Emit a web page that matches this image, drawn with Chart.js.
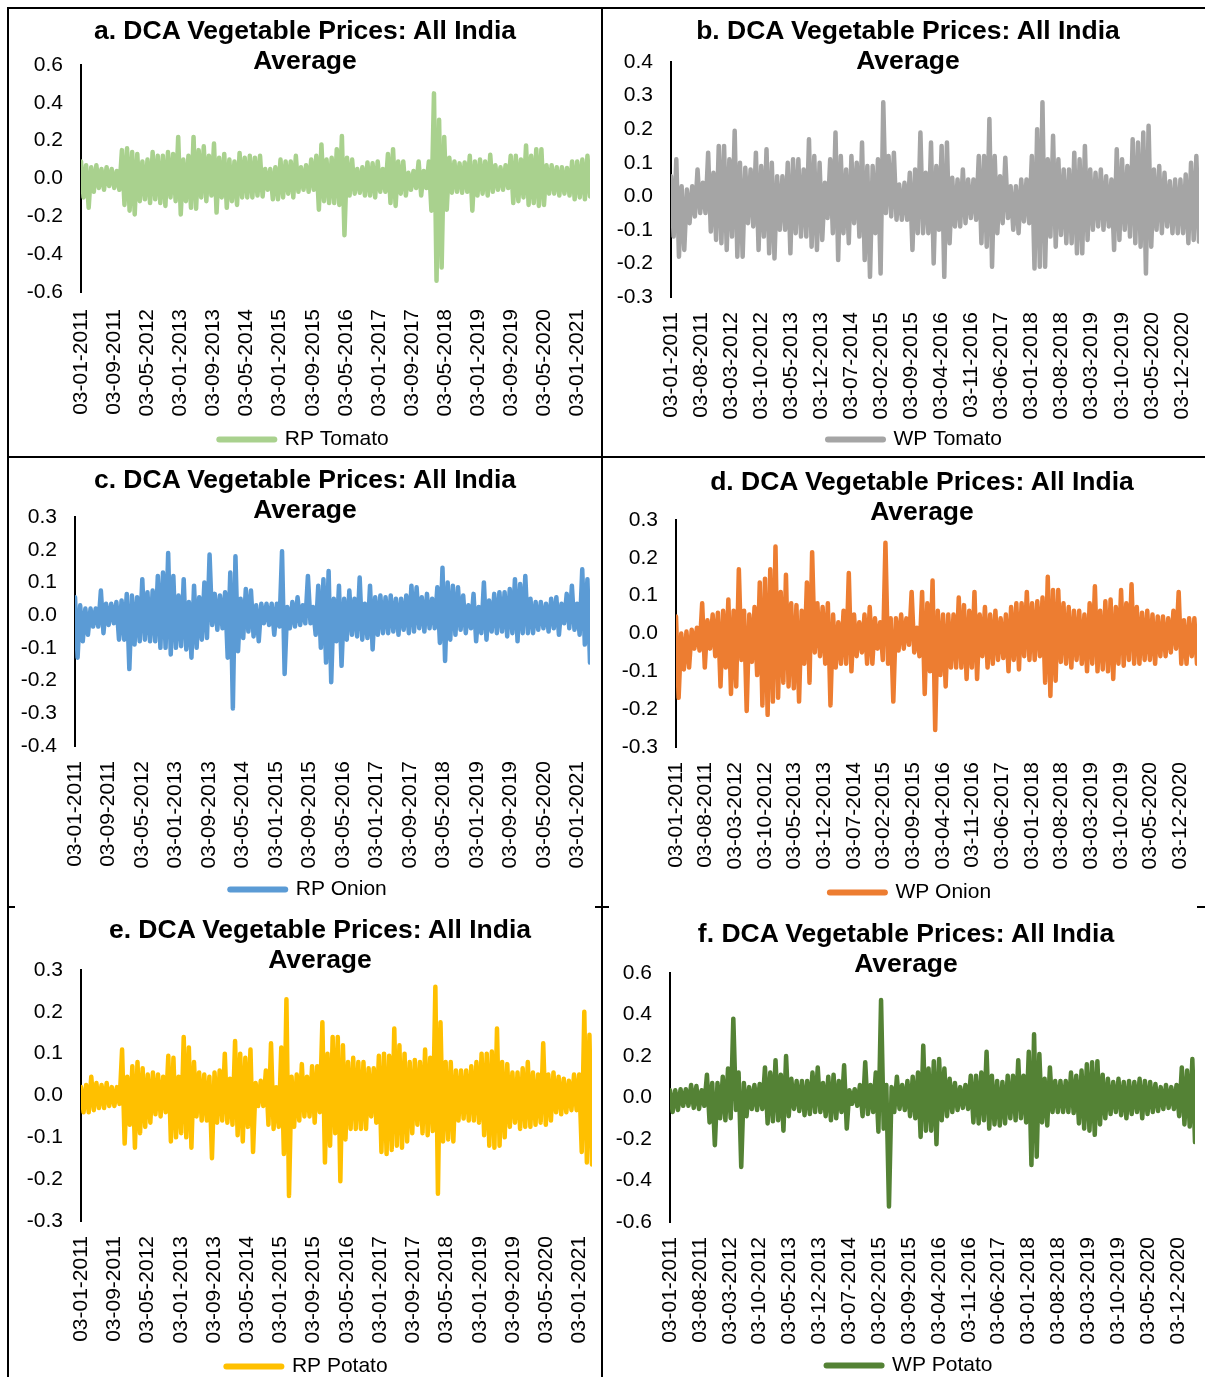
<!DOCTYPE html>
<html>
<head>
<meta charset="utf-8">
<script src="https://cdn.jsdelivr.net/npm/chart.js@4.4.1/dist/chart.umd.min.js"></script>
<style>
  html, body { margin: 0; padding: 0; background: #fff; }
  body { width: 1205px; height: 1377px; position: relative; overflow: hidden; font-family: 'Liberation Sans', Arial, sans-serif; }
  canvas { position: absolute; }
  .title { position: absolute; width: 600px; text-align: center; font-weight: bold; font-size: 26.5px; line-height: 30px; color: #000; z-index: 2; }
  .rule { position: absolute; background: #000; z-index: 3; }
</style>
</head>
<body>
<div class="rule" style="left:7px;top:7px;width:1198px;height:2px"></div>
<div class="rule" style="left:7px;top:456px;width:1198px;height:2px"></div>
<div class="rule" style="left:7px;top:7px;width:2px;height:1370px"></div>
<div class="rule" style="left:601px;top:7px;width:2px;height:1370px"></div>
<div class="rule" style="left:7px;top:906px;width:8px;height:2px"></div>
<div class="rule" style="left:595px;top:906px;width:14px;height:2px"></div>
<div class="rule" style="left:1197px;top:906px;width:8px;height:2px"></div>

<div class="title" style="left:5px;top:15px">a. DCA Vegetable Prices: All India<br>Average</div>
<div class="title" style="left:608px;top:15px">b. DCA Vegetable Prices: All India<br>Average</div>
<div class="title" style="left:5px;top:464px">c. DCA Vegetable Prices: All India<br>Average</div>
<div class="title" style="left:622px;top:466px">d. DCA Vegetable Prices: All India<br>Average</div>
<div class="title" style="left:20px;top:914px">e. DCA Vegetable Prices: All India<br>Average</div>
<div class="title" style="left:606px;top:918px">f. DCA Vegetable Prices: All India<br>Average</div>

<canvas id="chartA"></canvas>
<canvas id="chartB"></canvas>
<canvas id="chartC"></canvas>
<canvas id="chartD"></canvas>
<canvas id="chartE"></canvas>
<canvas id="chartF"></canvas>

<script>
const FONT = "'Liberation Sans', Arial, sans-serif";
Chart.defaults.font.family = FONT;
Chart.defaults.font.size = 21;
Chart.defaults.color = '#000';

// months counted from Jan 2011, series run to about Apr 2021
const X_MAX = 123;

// date ticks: every 8 months (left column), every 7 months (right column)
const ticksEvery8 = ['03-01-2011', '03-09-2011', '03-05-2012', '03-01-2013', '03-09-2013', '03-05-2014',
  '03-01-2015', '03-09-2015', '03-05-2016', '03-01-2017', '03-09-2017', '03-05-2018',
  '03-01-2019', '03-09-2019', '03-05-2020', '03-01-2021'];
const ticksEvery7 = ['03-01-2011', '03-08-2011', '03-03-2012', '03-10-2012', '03-05-2013', '03-12-2013',
  '03-07-2014', '03-02-2015', '03-09-2015', '03-04-2016', '03-11-2016', '03-06-2017',
  '03-01-2018', '03-08-2018', '03-03-2019', '03-10-2019', '03-05-2020', '03-12-2020'];

const yTicksA = [-0.6, -0.4, -0.2, 0, 0.2, 0.4, 0.6];
const yTicksB = [-0.3, -0.2, -0.1, 0, 0.1, 0.2, 0.3, 0.4];
const yTicksC = [-0.4, -0.3, -0.2, -0.1, 0, 0.1, 0.2, 0.3];
const yTicksD = [-0.3, -0.2, -0.1, 0, 0.1, 0.2, 0.3];
const yTicksE = [-0.3, -0.2, -0.1, 0, 0.1, 0.2, 0.3];
const yTicksF = [-0.6, -0.4, -0.2, 0, 0.2, 0.4, 0.6];

// values: successive highs and lows of the daily series
const rpTomato = [
  0.09,-0.10, 0.07,-0.155, 0.06,-0.07, 0.07,-0.05, 0.05,-0.06, 0.06,-0.04, 0.05,-0.05, 0.04,-0.06, 0.15,-0.14, 0.16,-0.17,
  0.14,-0.19, 0.13,-0.12, 0.09,-0.11, 0.10,-0.13, 0.14,-0.11, 0.12,-0.13, 0.12,-0.145, 0.14,-0.10, 0.13,-0.12, 0.22,-0.19,
  0.10,-0.12, 0.12,-0.155, 0.22,-0.16, 0.15,-0.10, 0.17,-0.12, 0.12,-0.09, 0.185,-0.18, 0.11,-0.10, 0.13,-0.155, 0.10,-0.12,
  0.09,-0.14, 0.135,-0.10, 0.11,-0.10, 0.12,-0.10, 0.11,-0.09, 0.12,-0.095, 0.05,-0.06, 0.05,-0.11, 0.06,-0.11, 0.10,-0.10,
  0.09,-0.08, 0.09,-0.10, 0.12,-0.07, 0.06,-0.06, 0.07,-0.07, 0.10,-0.06, 0.12,-0.165, 0.18,-0.12, 0.10,-0.13, 0.11,-0.13,
  0.155,-0.14, 0.225,-0.30, 0.11,-0.09, 0.10,-0.08, 0.05,-0.075, 0.06,-0.09, 0.085,-0.09, 0.08,-0.10, 0.09,-0.07, 0.05,-0.07,
  0.13,-0.13, 0.155,-0.145, 0.09,-0.08, 0.09,-0.09, 0.03,-0.06, 0.04,-0.05, 0.09,-0.09, 0.04,-0.05, 0.09,-0.17, 0.45,-0.54,
  0.31,-0.47, 0.22,-0.165, 0.11,-0.075, 0.09,-0.07, 0.08,-0.075, 0.085,-0.07, 0.12,-0.17, 0.09,-0.09, 0.10,-0.08, 0.09,-0.09,
  0.125,-0.07, 0.07,-0.06, 0.06,-0.06, 0.07,-0.05, 0.12,-0.13, 0.12,-0.12, 0.10,-0.10, 0.175,-0.14, 0.12,-0.13, 0.155,-0.145,
  0.155,-0.14, 0.07,-0.08, 0.07,-0.08, 0.06,-0.09, 0.06,-0.08, 0.055,-0.09, 0.09,-0.11, 0.09,-0.10, 0.10,-0.11, 0.12,-0.095
];
const wpTomato = [
  0.06,-0.12, 0.11,-0.18, 0.03,-0.16, 0.02,-0.08, 0.03,-0.06, 0.08,-0.05, 0.04,-0.05, 0.13,-0.105, 0.07,-0.13, 0.15,-0.14,
  0.15,-0.16, 0.11,-0.12, 0.195,-0.18, 0.10,-0.18, 0.085,-0.08, 0.08,-0.09, 0.13,-0.16, 0.09,-0.12, 0.14,-0.17, 0.10,-0.185,
  0.06,-0.10, 0.06,-0.10, 0.10,-0.17, 0.11,-0.11, 0.11,-0.12, 0.08,-0.12, 0.17,-0.15, 0.12,-0.16, 0.10,-0.13, 0.04,-0.065,
  0.11,-0.11, 0.19,-0.19, 0.12,-0.11, 0.08,-0.14, 0.12,-0.08, 0.10,-0.12, 0.16,-0.19, 0.09,-0.24, 0.09,-0.11, 0.11,-0.23,
  0.28,-0.05, 0.12,-0.06, 0.13,-0.07, 0.035,-0.07, 0.04,-0.07, 0.07,-0.16, 0.08,-0.11, 0.19,-0.11, 0.07,-0.11, 0.16,-0.20,
  0.09,-0.10, 0.15,-0.24, 0.16,-0.14, 0.055,-0.09, 0.05,-0.09, 0.08,-0.08, 0.05,-0.065, 0.05,-0.07, 0.12,-0.14, 0.12,-0.15,
  0.23,-0.21, 0.12,-0.11, 0.06,-0.08, 0.115,-0.065, 0.03,-0.10, 0.03,-0.11, 0.05,-0.075, 0.05,-0.08, 0.12,-0.215, 0.20,-0.21,
  0.28,-0.21, 0.11,-0.12, 0.18,-0.15, 0.11,-0.115, 0.08,-0.14, 0.08,-0.14, 0.13,-0.17, 0.11,-0.17, 0.15,-0.13, 0.08,-0.10,
  0.07,-0.09, 0.08,-0.10, 0.06,-0.09, 0.05,-0.16, 0.14,-0.13, 0.11,-0.10, 0.09,-0.12, 0.17,-0.14, 0.16,-0.15, 0.19,-0.23,
  0.21,-0.15, 0.08,-0.10, 0.09,-0.11, 0.07,-0.09, 0.045,-0.11, 0.05,-0.11, 0.05,-0.11, 0.065,-0.14, 0.10,-0.13, 0.12,-0.135
];
const rpOnion = [
  0.055,-0.13, 0.03,-0.08, 0.02,-0.06, 0.02,-0.035, 0.02,-0.035, 0.075,-0.055, 0.035,-0.03, 0.035,-0.025, 0.04,-0.075, 0.045,-0.075,
  0.065,-0.165, 0.06,-0.09, 0.055,-0.08, 0.11,-0.075, 0.07,-0.08, 0.075,-0.08, 0.12,-0.10, 0.13,-0.10, 0.19,-0.12, 0.12,-0.10,
  0.06,-0.095, 0.11,-0.105, 0.04,-0.13, 0.09,-0.10, 0.055,-0.075, 0.10,-0.07, 0.185,-0.03, 0.065,-0.045, 0.06,-0.04, 0.07,-0.13,
  0.13,-0.285, 0.18,-0.11, 0.05,-0.07, 0.08,-0.05, 0.075,-0.065, 0.03,-0.08, 0.035,-0.025, 0.035,-0.03, 0.035,-0.06, 0.035,-0.035,
  0.195,-0.18, 0.025,-0.04, 0.04,-0.035, 0.055,-0.03, 0.03,-0.025, 0.12,-0.025, 0.025,-0.06, 0.09,-0.10, 0.11,-0.145, 0.135,-0.205,
  0.05,-0.08, 0.09,-0.155, 0.05,-0.075, 0.075,-0.06, 0.05,-0.065, 0.115,-0.075, 0.035,-0.07, 0.09,-0.105, 0.055,-0.06, 0.06,-0.055,
  0.055,-0.055, 0.06,-0.05, 0.05,-0.06, 0.05,-0.045, 0.06,-0.055, 0.09,-0.05, 0.085,-0.04, 0.055,-0.05, 0.065,-0.04, 0.05,-0.04,
  0.085,-0.085, 0.145,-0.14, 0.10,-0.075, 0.09,-0.06, 0.085,-0.045, 0.06,-0.055, 0.03,-0.04, 0.065,-0.08, 0.025,-0.055, 0.10,-0.075,
  0.045,-0.05, 0.065,-0.055, 0.07,-0.05, 0.07,-0.065, 0.08,-0.055, 0.11,-0.08, 0.095,-0.055, 0.12,-0.055, 0.05,-0.055, 0.04,-0.045,
  0.04,-0.04, 0.035,-0.05, 0.05,-0.04, 0.055,-0.06, 0.035,-0.025, 0.065,-0.04, 0.09,-0.045, 0.035,-0.06, 0.14,-0.09, 0.11,-0.145
];
const wpOnion = [
  0.045,-0.17, 0.0,-0.095, 0.005,-0.09, 0.01,-0.04, 0.015,-0.045, 0.08,-0.09, 0.035,-0.04, 0.05,-0.06, 0.055,-0.14, 0.06,-0.09,
  0.09,-0.16, 0.06,-0.14, 0.17,-0.07, 0.06,-0.205, 0.05,-0.075, 0.07,-0.11, 0.135,-0.19, 0.145,-0.215, 0.17,-0.18, 0.23,-0.17,
  0.11,-0.13, 0.155,-0.14, 0.08,-0.145, 0.075,-0.18, 0.06,-0.08, 0.135,-0.13, 0.215,-0.05, 0.08,-0.06, 0.07,-0.08, 0.08,-0.19,
  0.05,-0.09, 0.03,-0.08, 0.06,-0.08, 0.16,-0.10, 0.05,-0.06, 0.03,-0.05, 0.05,-0.08, 0.07,-0.08, 0.04,-0.04, 0.03,-0.07,
  0.24,-0.08, 0.04,-0.18, 0.04,-0.045, 0.05,-0.04, 0.04,-0.03, 0.11,-0.05, 0.015,-0.06, 0.11,-0.16, 0.08,-0.10, 0.14,-0.255,
  0.06,-0.11, 0.05,-0.14, 0.05,-0.09, 0.05,-0.09, 0.095,-0.09, 0.075,-0.12, 0.06,-0.09, 0.11,-0.12, 0.05,-0.06, 0.07,-0.09,
  0.05,-0.08, 0.06,-0.07, 0.04,-0.065, 0.05,-0.10, 0.07,-0.07, 0.08,-0.095, 0.08,-0.06, 0.11,-0.07, 0.08,-0.07, 0.085,-0.06,
  0.095,-0.13, 0.15,-0.165, 0.115,-0.125, 0.115,-0.075, 0.08,-0.08, 0.07,-0.09, 0.06,-0.07, 0.06,-0.08, 0.05,-0.10, 0.08,-0.08,
  0.125,-0.10, 0.06,-0.095, 0.085,-0.10, 0.09,-0.12, 0.07,-0.08, 0.115,-0.085, 0.08,-0.07, 0.13,-0.08, 0.07,-0.08, 0.055,-0.07,
  0.06,-0.07, 0.05,-0.08, 0.045,-0.06, 0.045,-0.06, 0.04,-0.05, 0.06,-0.04, 0.11,-0.08, 0.035,-0.08, 0.04,-0.06, 0.04,-0.08
];
const rpPotato = [
  0.02,-0.04, 0.025,-0.04, 0.045,-0.035, 0.03,-0.03, 0.025,-0.03, 0.03,-0.025, 0.02,-0.025, 0.02,-0.02, 0.11,-0.115, 0.045,-0.07,
  0.07,-0.125, 0.08,-0.09, 0.065,-0.075, 0.05,-0.065, 0.055,-0.045, 0.05,-0.05, 0.045,-0.04, 0.095,-0.11, 0.09,-0.10, 0.045,-0.09,
  0.14,-0.10, 0.115,-0.125, 0.08,-0.05, 0.055,-0.06, 0.05,-0.06, 0.045,-0.15, 0.055,-0.065, 0.06,-0.06, 0.10,-0.065, 0.04,-0.07,
  0.13,-0.095, 0.10,-0.11, 0.09,-0.075, 0.11,-0.135, 0.03,-0.025, 0.035,-0.025, 0.06,-0.07, 0.125,-0.08, 0.02,-0.075, 0.115,-0.14,
  0.23,-0.24, 0.045,-0.075, 0.05,-0.06, 0.075,-0.05, 0.045,-0.05, 0.07,-0.065, 0.07,-0.04, 0.175,-0.16, 0.10,-0.12, 0.14,-0.09,
  0.14,-0.205, 0.12,-0.105, 0.08,-0.08, 0.09,-0.08, 0.08,-0.08, 0.08,-0.08, 0.065,-0.05, 0.065,-0.065, 0.095,-0.135, 0.10,-0.14,
  0.095,-0.13, 0.16,-0.12, 0.12,-0.125, 0.10,-0.11, 0.08,-0.09, 0.085,-0.07, 0.08,-0.09, 0.11,-0.095, 0.09,-0.085, 0.26,-0.235,
  0.175,-0.11, 0.08,-0.105, 0.08,-0.11, 0.06,-0.06, 0.06,-0.055, 0.06,-0.06, 0.07,-0.06, 0.08,-0.065, 0.10,-0.095, 0.10,-0.12,
  0.105,-0.125, 0.16,-0.12, 0.08,-0.10, 0.075,-0.075, 0.055,-0.065, 0.055,-0.08, 0.065,-0.075, 0.08,-0.075, 0.055,-0.07, 0.05,-0.065,
  0.125,-0.07, 0.05,-0.06, 0.055,-0.04, 0.045,-0.045, 0.04,-0.04, 0.035,-0.035, 0.05,-0.035, 0.05,-0.135, 0.20,-0.16, 0.145,-0.165
];
const wpPotato = [
  0.035,-0.07, 0.035,-0.06, 0.04,-0.04, 0.04,-0.04, 0.06,-0.05, 0.055,-0.055, 0.035,-0.04, 0.11,-0.12, 0.07,-0.23, 0.07,-0.10,
  0.10,-0.11, 0.14,-0.10, 0.38,-0.06, 0.12,-0.335, 0.07,-0.09, 0.05,-0.055, 0.06,-0.06, 0.065,-0.055, 0.145,-0.125, 0.12,-0.115,
  0.18,-0.11, 0.11,-0.16, 0.20,-0.09, 0.09,-0.055, 0.08,-0.065, 0.08,-0.085, 0.08,-0.08, 0.12,-0.07, 0.145,-0.07, 0.07,-0.09,
  0.10,-0.11, 0.11,-0.10, 0.08,-0.07, 0.155,-0.15, 0.035,-0.03, 0.04,-0.04, 0.06,-0.09, 0.17,-0.08, 0.06,-0.07, 0.12,-0.165,
  0.47,-0.15, 0.06,-0.525, 0.05,-0.07, 0.10,-0.055, 0.06,-0.06, 0.08,-0.09, 0.10,-0.10, 0.12,-0.19, 0.25,-0.16, 0.14,-0.16,
  0.175,-0.225, 0.185,-0.11, 0.14,-0.09, 0.09,-0.07, 0.07,-0.06, 0.05,-0.05, 0.06,-0.055, 0.105,-0.12, 0.105,-0.125, 0.12,-0.11,
  0.22,-0.15, 0.105,-0.13, 0.08,-0.135, 0.075,-0.125, 0.105,-0.10, 0.105,-0.11, 0.18,-0.10, 0.105,-0.12, 0.22,-0.325, 0.305,-0.285,
  0.21,-0.12, 0.09,-0.135, 0.145,-0.07, 0.08,-0.07, 0.08,-0.07, 0.08,-0.07, 0.12,-0.075, 0.105,-0.125, 0.13,-0.15, 0.16,-0.16,
  0.17,-0.18, 0.175,-0.13, 0.11,-0.10, 0.09,-0.08, 0.075,-0.07, 0.09,-0.085, 0.075,-0.10, 0.08,-0.08, 0.075,-0.07, 0.09,-0.10,
  0.08,-0.08, 0.075,-0.07, 0.065,-0.065, 0.05,-0.055, 0.06,-0.05, 0.05,-0.055, 0.06,-0.09, 0.145,-0.13, 0.13,-0.14, 0.185,-0.215
];

// spread the readings evenly over the date range
function toPoints(values) {
  const step = X_MAX / (values.length - 1);
  return values.map((v, i) => ({ x: i * step, y: v }));
}

const legendGen = Chart.defaults.plugins.legend.labels.generateLabels;

// left/top/w/h: canvas on the page; padL/padT/yw/xh fix where the plot area lands
function makeChart(id, p) {
  const canvas = document.getElementById(id);
  canvas.width = p.w;
  canvas.height = p.h;
  canvas.style.left = p.left + 'px';
  canvas.style.top = p.top + 'px';

  new Chart(canvas, {
    type: 'line',
    data: {
      datasets: [{
        label: p.label,
        data: toPoints(p.values),
        borderColor: p.color,
        backgroundColor: p.color,
        borderWidth: 4.5,
        borderCapStyle: 'round',
        borderJoinStyle: 'round',
        pointRadius: 0,
        tension: 0
      }]
    },
    plugins: [{
      // nudge the legend so it sits centred like the original
      id: 'legendShift',
      afterLayout(chart) {
        chart.legend.left += p.legendDx;
        chart.legend.right += p.legendDx;
      }
    }],
    options: {
      responsive: false,
      animation: false,
      devicePixelRatio: 1,
      layout: { autoPadding: false, padding: { left: p.padL, right: p.padR, top: p.padT, bottom: 0 } },
      plugins: {
        tooltip: { enabled: false },
        legend: {
          position: 'bottom',
          labels: {
            usePointStyle: true,
            pointStyle: 'line',
            pointStyleWidth: 55,
            padding: 10,
            color: '#000',
            font: { size: 21 },
            generateLabels: chart => legendGen(chart).map(l => ({ ...l, lineWidth: 6, lineCap: 'round' }))
          }
        }
      },
      scales: {
        x: {
          type: 'linear',
          min: 0,
          max: X_MAX,
          grid: { display: false, drawTicks: false },
          border: { display: false },
          afterBuildTicks: s => { s.ticks = p.xLabels.map((_, i) => ({ value: i * p.xStep })); },
          afterFit: s => { s.height = p.xh; s.paddingLeft = 0; s.paddingRight = 0; },
          ticks: {
            autoSkip: false,
            minRotation: 90,
            maxRotation: 90,
            padding: p.xPad,
            color: '#000',
            font: { size: 21 },
            callback: (v, i) => p.xLabels[i]
          }
        },
        y: {
          min: p.yTicks[0],
          max: p.yTicks[p.yTicks.length - 1],
          grid: { display: false, drawTicks: false },
          border: { display: true, color: '#000', width: 2 },
          afterBuildTicks: s => { s.ticks = p.yTicks.map(v => ({ value: v })); },
          afterFit: s => { s.width = p.yw; s.paddingTop = 0; s.paddingBottom = 0; },
          ticks: {
            padding: 18,
            color: '#000',
            font: { size: 21 },
            callback: v => v.toFixed(1)
          }
        }
      }
    }
  });
}

makeChart('chartA', { left: 8, top: 8, w: 592, h: 452, padL: 10, padR: 10, padT: 57, yw: 63, xh: 127, xPad: 17, legendDx: 0,
  label: 'RP Tomato', color: '#a9d18e', values: rpTomato, yTicks: yTicksA, xLabels: ticksEvery8, xStep: 8 });
makeChart('chartB', { left: 604, top: 8, w: 599, h: 452, padL: 7, padR: 4, padT: 54, yw: 60, xh: 122, xPad: 15, legendDx: 10,
  label: 'WP Tomato', color: '#a5a5a5', values: wpTomato, yTicks: yTicksB, xLabels: ticksEvery7, xStep: 7 });
makeChart('chartC', { left: 8, top: 458, w: 592, h: 452, padL: 7, padR: 10, padT: 59, yw: 60, xh: 123, xPad: 15, legendDx: 6,
  label: 'RP Onion', color: '#5b9bd5', values: rpOnion, yTicks: yTicksC, xLabels: ticksEvery8, xStep: 8 });
makeChart('chartD', { left: 604, top: 458, w: 597, h: 455, padL: 12, padR: 4, padT: 62, yw: 60, xh: 125, xPad: 15, legendDx: 4,
  label: 'WP Onion', color: '#ed7d31', values: wpOnion, yTicks: yTicksD, xLabels: ticksEvery7, xStep: 7 });
makeChart('chartE', { left: 8, top: 908, w: 594, h: 479, padL: 14, padR: 10, padT: 62, yw: 59, xh: 125, xPad: 15, legendDx: 0,
  label: 'RP Potato', color: '#ffc000', values: rpPotato, yTicks: yTicksE, xLabels: ticksEvery8, xStep: 8 });
makeChart('chartF', { left: 604, top: 908, w: 595, h: 478, padL: 6, padR: 4, padT: 65, yw: 60, xh: 123, xPad: 15, legendDx: 7,
  label: 'WP Potato', color: '#548235', values: wpPotato, yTicks: yTicksF, xLabels: ticksEvery7, xStep: 7 });
</script>
</body>
</html>
